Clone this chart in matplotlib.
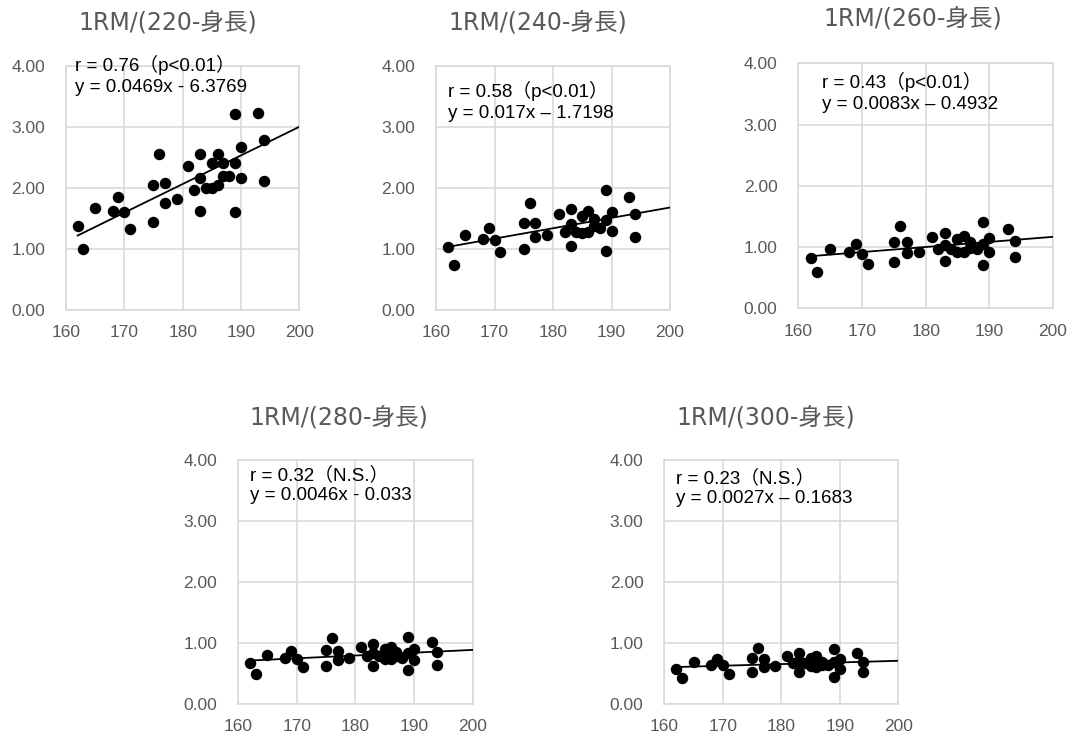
import matplotlib
matplotlib.use("Agg")
import matplotlib.pyplot as plt
import numpy as np

# ---- data ----
height = [162, 163, 165, 168, 169, 170, 171, 175, 175, 176, 177, 177, 179, 181, 182,
          183, 183, 183, 184, 185, 185, 186, 186, 187, 187, 188, 189, 189, 189, 190,
          190, 193, 194, 194]

y220 = [1.38, 1.00, 1.68, 1.63, 1.86, 1.60, 1.32, 1.44, 2.05, 2.55, 1.75, 2.09, 1.82, 2.36, 1.97,
        2.56, 2.17, 1.62, 2.00, 2.00, 2.41, 2.56, 2.05, 2.41, 2.20, 2.19, 2.41, 3.22, 1.61, 2.67,
        2.16, 3.23, 2.79, 2.12]
y240 = [1.03, 0.74, 1.23, 1.17, 1.34, 1.14, 0.95, 1.00, 1.42, 1.76, 1.19, 1.43, 1.23, 1.57, 1.28,
        1.66, 1.41, 1.05, 1.28, 1.27, 1.54, 1.62, 1.28, 1.50, 1.37, 1.34, 1.48, 1.96, 0.97, 1.60,
        1.30, 1.86, 1.57, 1.19]
y260 = [0.82, 0.59, 0.97, 0.92, 1.05, 0.89, 0.73, 0.76, 1.08, 1.34, 0.90, 1.08, 0.92, 1.17, 0.96,
        1.23, 1.04, 0.77, 0.96, 0.92, 1.13, 1.18, 0.92, 1.09, 0.98, 0.96, 1.05, 1.41, 0.71, 1.14,
        0.92, 1.30, 1.10, 0.83]
y280 = [0.68, 0.49, 0.80, 0.76, 0.87, 0.74, 0.60, 0.62, 0.89, 1.09, 0.72, 0.87, 0.75, 0.94, 0.78,
        0.98, 0.83, 0.62, 0.78, 0.73, 0.90, 0.94, 0.73, 0.86, 0.78, 0.75, 0.83, 1.10, 0.56, 0.90,
        0.72, 1.01, 0.85, 0.64]
y300 = [0.58, 0.42, 0.69, 0.64, 0.74, 0.64, 0.50, 0.53, 0.75, 0.92, 0.60, 0.74, 0.62, 0.78, 0.67,
        0.83, 0.70, 0.52, 0.67, 0.62, 0.75, 0.78, 0.61, 0.69, 0.64, 0.64, 0.69, 0.90, 0.45, 0.73,
        0.58, 0.83, 0.69, 0.52]

titles = ["1RM/(220-身長)", "1RM/(240-身長)", "1RM/(260-身長)", "1RM/(280-身長)", "1RM/(300-身長)"]
r_texts = ["r = 0.76（p<0.01）", "r = 0.58（p<0.01）", "r = 0.43（p<0.01）",
           "r = 0.32（N.S.）", "r = 0.23（N.S.）"]
eq_texts = ["y = 0.0469x - 6.3769", "y = 0.017x – 1.7198", "y = 0.0083x – 0.4932",
            "y = 0.0046x - 0.033", "y = 0.0027x – 0.1683"]
slopes = [0.0469, 0.017, 0.0083, 0.0046, 0.0027]
intercepts = [-6.3769, -1.7198, -0.4932, -0.033, 0.1683]
series = [y220, y240, y260, y280, y300]

x_ticks = [160, 170, 180, 190, 200]
y_ticks = [0.0, 1.0, 2.0, 3.0, 4.0]

# ---- layout (pixels) ----
W, H = 1072, 736
# left, right, top, bottom of plot areas
boxes = [(66, 299.3, 66, 310), (436, 670, 66, 310), (798.3, 1053, 63.3, 308.3),
         (238, 472.7, 460, 704), (664.3, 898.3, 460, 704)]
title_pos = [(168, 23), (538, 23), (913, 19), (339, 419), (766, 419)]
text_pos = [(75, 55), (448, 81), (822, 72), (250, 466), (676, 469)]

gray = "#595959"
grid = "#d9d9d9"
latin = ["Liberation Sans", "Noto Sans CJK JP", "DejaVu Sans"]
title_fam = ["DejaVu Sans", "Noto Sans CJK JP"]

fig = plt.figure(figsize=(W / 100, H / 100), dpi=100)

for i in range(5):
    l, r, t, b = boxes[i]
    ax = fig.add_axes([l / W, 1 - b / H, (r - l) / W, (b - t) / H])
    ax.set_xlim(160, 200)
    ax.set_ylim(0, 4)
    ax.set_xticks(x_ticks)
    ax.set_yticks(y_ticks)
    ax.set_yticklabels([f"{v:.2f}" for v in y_ticks])
    ax.grid(True, color=grid, linewidth=1.2)
    ax.set_axisbelow(True)
    for s in ax.spines.values():
        s.set_color(grid)
        s.set_linewidth(1.2)
    ax.tick_params(length=0, colors=gray, labelsize=12.5)
    ax.tick_params(axis="y", pad=15)
    ax.tick_params(axis="x", pad=11)
    for lab in ax.get_xticklabels() + ax.get_yticklabels():
        lab.set_family(latin)

    ax.scatter(height, series[i], s=68, color="black", zorder=3, linewidths=0)
    xs = np.array([min(height), 200])
    ax.plot(xs, slopes[i] * xs + intercepts[i], color="black", linewidth=1.3, zorder=4)

    tx, ty = title_pos[i]
    fig.text(tx / W, 1 - ty / H, titles[i], ha="center", va="center",
             fontsize=17, color=gray, family=title_fam)
    px, py = text_pos[i]
    fig.text(px / W, 1 - py / H, r_texts[i] + "\n" + eq_texts[i], ha="left", va="top",
             fontsize=13.5, color="black", family=latin, linespacing=1.28)

fig.savefig("out.png", dpi=100)
